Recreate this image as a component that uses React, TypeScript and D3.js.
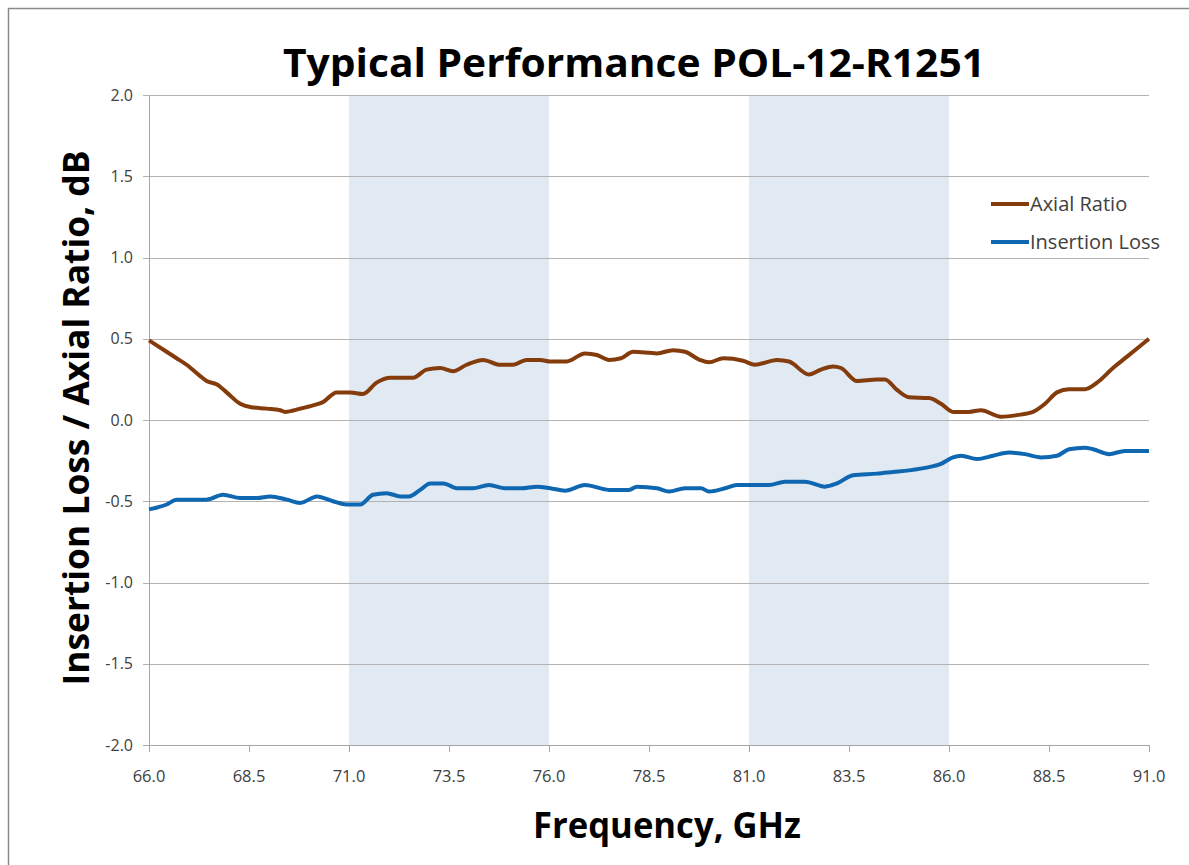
import React from 'react';
import * as d3 from 'd3';

// frequency grid in GHz
const axialFreq = [
  66.0, 66.44, 66.69, 66.94, 67.28, 67.44, 67.69, 67.94, 68.28, 68.53, 68.94, 69.28, 69.4, 69.78,
  70.1, 70.35, 70.69, 71.03, 71.35, 71.69, 72.03, 72.6, 72.94, 73.28, 73.6, 73.94, 74.35, 74.78,
  75.1, 75.44, 75.78, 76.03, 76.44, 76.9, 77.2, 77.5, 77.8, 78.1, 78.7, 79.1, 79.4, 79.77, 80.0,
  80.36, 80.85, 81.15, 81.7, 82.0, 82.5, 82.8, 83.1, 83.3, 83.7, 84.2, 84.4, 84.7, 85.0, 85.5,
  85.8, 86.1, 86.5, 86.8, 87.3, 87.7, 88.1, 88.4, 88.7, 89.0, 89.4, 89.7, 90.1, 90.45, 91.0,
];
const axialRatio = [
  0.49, 0.42, 0.38, 0.34, 0.27, 0.24, 0.22, 0.17, 0.1, 0.08, 0.07, 0.06, 0.05, 0.07,
  0.09, 0.11, 0.17, 0.17, 0.16, 0.23, 0.26, 0.26, 0.31, 0.32, 0.3, 0.34, 0.37, 0.34,
  0.34, 0.37, 0.37, 0.36, 0.36, 0.41, 0.4, 0.37, 0.38, 0.42, 0.41, 0.43, 0.42, 0.37, 0.355,
  0.38, 0.365, 0.34, 0.37, 0.36, 0.28, 0.31, 0.33, 0.32, 0.24, 0.25, 0.25, 0.185, 0.14, 0.135,
  0.1, 0.05, 0.05, 0.06, 0.02, 0.03, 0.05, 0.1, 0.17, 0.19, 0.19, 0.23, 0.32, 0.39, 0.5,
];

const lossFreq = [
  66.0, 66.44, 66.69, 67.1, 67.44, 67.85, 68.28, 68.7, 69.03, 69.45, 69.78, 70.2, 70.6, 70.94,
  71.28, 71.6, 71.94, 72.28, 72.5, 72.78, 73.03, 73.36, 73.7, 74.1, 74.5, 74.9, 75.3, 75.7,
  76.03, 76.4, 76.9, 77.5, 78.0, 78.2, 78.7, 79.0, 79.4, 79.8, 80.0, 80.4, 80.7, 81.15, 81.5,
  81.9, 82.4, 82.9, 83.2, 83.6, 84.2, 84.6, 85.0, 85.5, 85.8, 86.1, 86.3, 86.7, 87.1, 87.5,
  87.9, 88.3, 88.7, 89.0, 89.4, 89.6, 90.0, 90.4, 90.7, 91.0,
];
const insertionLoss = [
  -0.55, -0.52, -0.49, -0.49, -0.49, -0.46, -0.48, -0.48, -0.47, -0.49, -0.51, -0.47, -0.5, -0.52,
  -0.52, -0.46, -0.45, -0.47, -0.47, -0.43, -0.39, -0.39, -0.42, -0.42, -0.4, -0.42, -0.42, -0.41,
  -0.42, -0.435, -0.4, -0.43, -0.43, -0.41, -0.42, -0.44, -0.42, -0.42, -0.44, -0.42, -0.4, -0.4, -0.4,
  -0.38, -0.38, -0.41, -0.39, -0.34, -0.33, -0.32, -0.31, -0.29, -0.27, -0.23, -0.22, -0.24, -0.22, -0.2,
  -0.21, -0.23, -0.22, -0.18, -0.17, -0.18, -0.21, -0.19, -0.19, -0.19,
];

const xTicks = [66.0, 68.5, 71.0, 73.5, 76.0, 78.5, 81.0, 83.5, 86.0, 88.5, 91.0];
const yTicks = [2.0, 1.5, 1.0, 0.5, 0.0, -0.5, -1.0, -1.5, -2.0];
// shaded bands (GHz)
const bands = [
  [71.0, 76.0],
  [81.0, 86.0],
];
const seriesNames = ['Axial Ratio', 'Insertion Loss'];
const seriesColors = ['#843c0c', '#0f67b1'];

const FONT = '"Open Sans", "DejaVu Sans", sans-serif';

export default function App() {
  const width = 1189;
  const height = 865;
  const left = 149;
  const right = 1149;
  const top = 95;
  const bottom = 745;

  const x = d3.scaleLinear().domain([66, 91]).range([left, right]);
  const y = d3.scaleLinear().domain([-2, 2]).range([bottom, top]);

  const line = d3
    .line<[number, number]>()
    .x((d) => x(d[0]))
    .y((d) => y(d[1]))
    .curve(d3.curveMonotoneX);

  const axialPts = axialFreq.map((f, i) => [f, axialRatio[i]] as [number, number]);
  const lossPts = lossFreq.map((f, i) => [f, insertionLoss[i]] as [number, number]);

  return (
    <svg
      width={width}
      height={height}
      style={{ position: 'absolute', left: 0, top: 0, background: '#fff' }}
    >
      <rect x={8.5} y={8.5} width={1300} height={1000} fill="#fff" stroke="#8a8a8a" strokeWidth={1.5} />

      {bands.map((b, i) => (
        <rect
          key={i}
          x={x(b[0])}
          y={top}
          width={x(b[1]) - x(b[0])}
          height={bottom - top}
          fill="#e1e9f3"
        />
      ))}

      {/* grid lines + y ticks */}
      {yTicks.map((t) => (
        <g key={t}>
          <line
            x1={left - 6}
            x2={right}
            y1={Math.round(y(t)) + 0.5}
            y2={Math.round(y(t)) + 0.5}
            stroke={t === -2 ? '#a6a6a6' : '#b3b3b3'}
            strokeWidth={1}
          />
          <text
            x={133}
            y={y(t)}
            dy="0.35em"
            textAnchor="end"
            fontFamily={FONT}
            fontSize={16}
            fill="#404040"
          >
            {t.toFixed(1)}
          </text>
        </g>
      ))}

      {/* y axis line */}
      <line x1={left + 0.5} x2={left + 0.5} y1={top} y2={bottom} stroke="#a6a6a6" strokeWidth={1} />

      {/* x ticks */}
      {xTicks.map((t) => (
        <g key={t}>
          <line
            x1={Math.round(x(t)) + 0.5}
            x2={Math.round(x(t)) + 0.5}
            y1={bottom}
            y2={bottom + 7}
            stroke="#a6a6a6"
          />
          <text x={x(t)} y={782} textAnchor="middle" fontFamily={FONT} fontSize={16.5} fill="#404040">
            {t.toFixed(1)}
          </text>
        </g>
      ))}

      <path d={line(axialPts) || ''} fill="none" stroke={seriesColors[0]} strokeWidth={4} strokeLinejoin="round" />
      <path d={line(lossPts) || ''} fill="none" stroke={seriesColors[1]} strokeWidth={4} strokeLinejoin="round" />

      {/* legend */}
      {seriesNames.map((n, i) => (
        <g key={n} transform={`translate(991,${204 + i * 38})`}>
          <line x1={0} x2={38} y1={0} y2={0} stroke={seriesColors[i]} strokeWidth={4} />
          <text x={39} y={0} dy="0.35em" fontFamily={FONT} fontSize={20} fill="#404040">
            {n}
          </text>
        </g>
      ))}

      <text
        x={634}
        y={77}
        textAnchor="middle"
        fontFamily={FONT}
        fontWeight="bold"
        fontSize={40}
        textLength={702}
        lengthAdjust="spacingAndGlyphs"
        fill="#000"
      >
        Typical Performance POL-12-R1251
      </text>

      <text
        transform={`translate(89,418) rotate(-90)`}
        textAnchor="middle"
        fontFamily={FONT}
        fontWeight="bold"
        fontSize={35}
        textLength={535}
        lengthAdjust="spacingAndGlyphs"
        fill="#000"
      >
        Insertion Loss / Axial Ratio, dB
      </text>

      <text
        x={667}
        y={838}
        textAnchor="middle"
        fontFamily={FONT}
        fontWeight="bold"
        fontSize={35}
        textLength={268}
        lengthAdjust="spacingAndGlyphs"
        fill="#000"
      >
        Frequency, GHz
      </text>
    </svg>
  );
}
